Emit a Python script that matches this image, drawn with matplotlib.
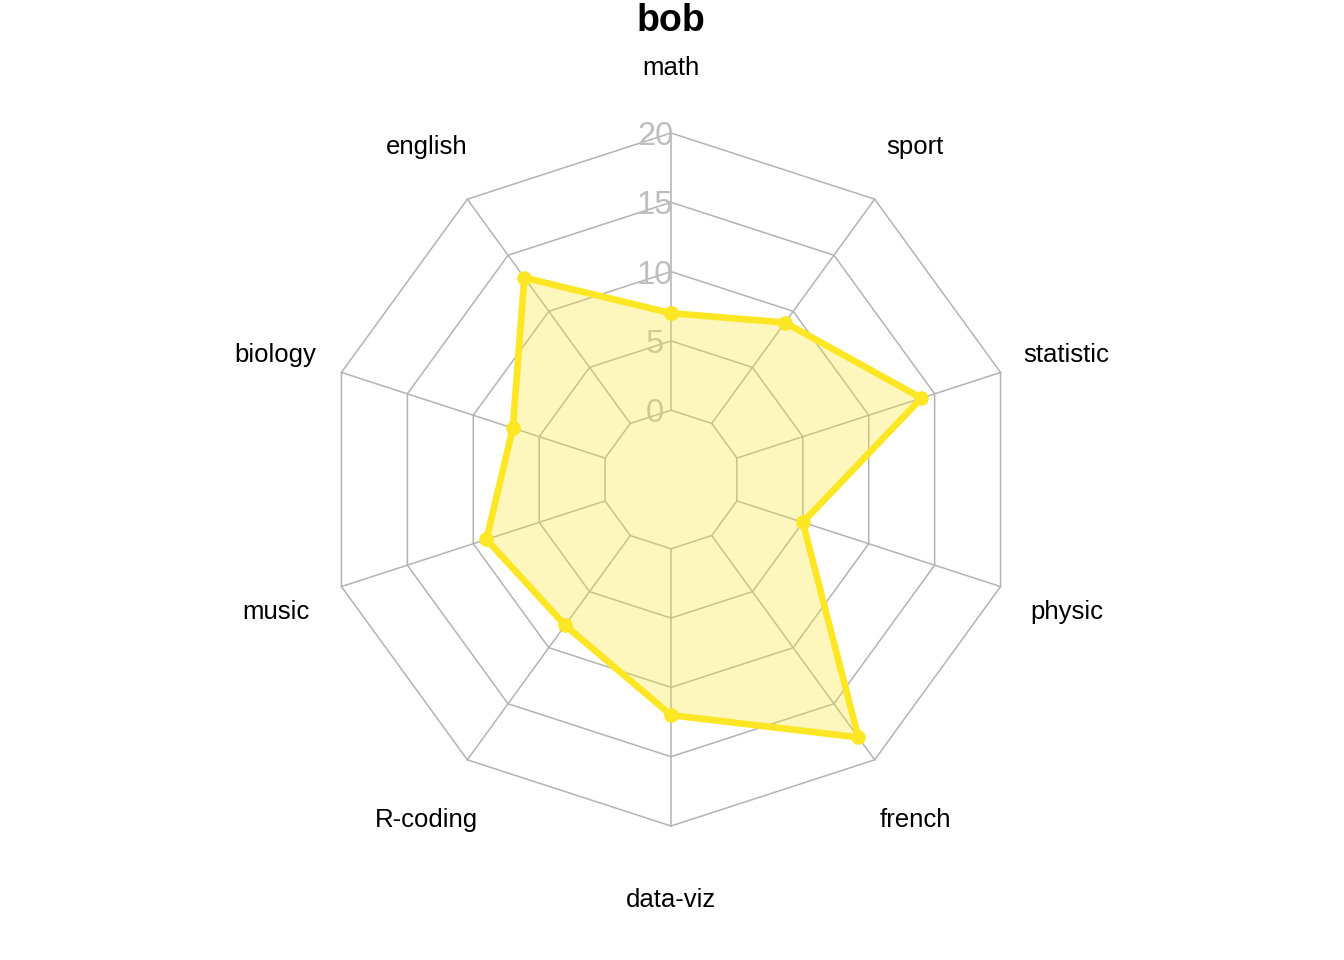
import matplotlib.pyplot as plt
import numpy as np

plt.rcParams['font.family'] = ['Liberation Sans', 'DejaVu Sans']

# scores for bob, clockwise from the top
subjects = ["math", "sport", "statistic", "physic", "french",
            "data-viz", "R-coding", "music", "biology", "english"]
scores = [7, 9, 14, 5, 18, 12, 8, 9, 7, 13]
axis_labels = ["0", "5", "10", "15", "20"]
vmin, vmax = 0, 20
title = "bob"

line_col = "#FDE725"
grid_col = "#B3B3B3"
lab_col = "#BEBEBE"

# fmsb style scaling: inner ring is 1/(seg+1) of the radius
seg = 4
gap = 1 / (seg + 1)


def scale(v):
    return gap + (v - vmin) / (vmax - vmin) * (1 - gap)


n = len(subjects)
theta = np.pi / 2 - np.arange(n) * 2 * np.pi / n
cx, cy = np.cos(theta), np.sin(theta)

fig = plt.figure(figsize=(13.44, 9.6), dpi=100)
ax = fig.add_axes([0, 0, 1, 1])
R = 346.5
ax.set_xlim(-671 / R, (1344 - 671) / R)
ax.set_ylim(-(960 - 479.5) / R, 479.5 / R)
ax.axis("off")

# grid rings and spokes
for k in range(seg + 1):
    r = gap + k * (1 - gap) / seg
    ax.plot(np.append(cx, cx[0]) * r, np.append(cy, cy[0]) * r,
            color=grid_col, lw=1.1, zorder=1)
for i in range(n):
    ax.plot([cx[i] * gap, cx[i]], [cy[i] * gap, cy[i]],
            color=grid_col, lw=1.1, zorder=1)

# axis labels
for k, lab in enumerate(axis_labels):
    r = gap + k * (1 - gap) / seg
    ax.text(-0.046, r, lab, ha="center", va="center_baseline",
            fontsize=23.5, color=lab_col, zorder=2)

# subject labels
for i, s in enumerate(subjects):
    ax.text(cx[i] * 1.2, cy[i] * 1.2 - 0.005, s, ha="center",
            va="center_baseline", fontsize=18.5, color="black")

# data polygon
rs = np.array([scale(v) for v in scores])
px = np.append(cx * rs, cx[0] * rs[0])
py = np.append(cy * rs, cy[0] * rs[0])
ax.fill(px, py, color=line_col, alpha=0.3, lw=0, zorder=3)
ax.plot(px, py, color=line_col, lw=4.8, marker="o", ms=9.5, zorder=4)

ax.text(0, 1.335, title, ha="center", va="center_baseline",
        fontsize=27, fontweight="bold")

fig.savefig("out.png", dpi=100)
